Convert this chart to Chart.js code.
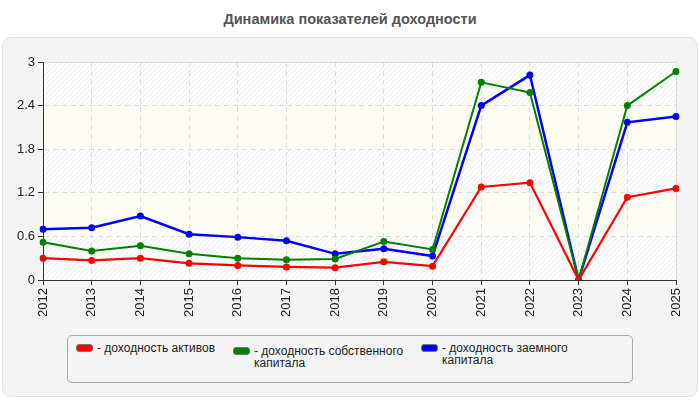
<!DOCTYPE html>
<html>
<head>
<meta charset="utf-8">
<script src="https://cdn.jsdelivr.net/npm/chart.js@4/dist/chart.umd.min.js"></script>
<style>
	body { margin: 0; width: 700px; height: 400px; position: relative; background: #fff; font-family: "Liberation Sans", Arial, sans-serif; overflow: hidden; }
	#title { position: absolute; left: 0; top: 11px; width: 700px; text-align: center; font-weight: bold; font-size: 14.5px; color: #555; }
	#panel { position: absolute; left: 2px; top: 37px; width: 694px; height: 358px; background: #f4f4f4; border: 1px solid #e2e2e2; border-radius: 9px; }
	#wrap { position: absolute; left: 0; top: 0; width: 700px; height: 400px; }
	#legend { position: absolute; left: 67px; top: 335px; width: 564px; height: 46px; border: 1px solid #aaa; border-radius: 5px; background: #f4f4f4; }
	.item { position: absolute; font-size: 12px; line-height: 12px; color: #222; }
	.sw { position: absolute; top: 2px; width: 15px; height: 6px; border-radius: 3px; border: 1px solid #777; }
	.txt { position: absolute; left: 21px; top: 0; white-space: nowrap; }
</style>
</head>
<body>
<div id="title">Динамика показателей доходности</div>
<div id="panel"></div>
<div id="wrap"><canvas id="chart" width="700" height="400"></canvas></div>
<div id="legend"></div>
<script>
"use strict";

const years = ["2012", "2013", "2014", "2015", "2016", "2017", "2018", "2019", "2020", "2021", "2022", "2023", "2024", "2025"];
const assetsReturn = [0.30, 0.27, 0.30, 0.23, 0.20, 0.18, 0.17, 0.25, 0.19, 1.28, 1.34, 0, 1.14, 1.26];
const equityReturn = [0.52, 0.40, 0.47, 0.36, 0.30, 0.28, 0.29, 0.53, 0.42, 2.72, 2.58, 0, 2.40, 2.87];
const debtReturn = [0.70, 0.72, 0.88, 0.63, 0.59, 0.54, 0.36, 0.43, 0.33, 2.40, 2.82, 0, 2.17, 2.25];
const yTicks = [0, 0.6, 1.2, 1.8, 2.4, 3];
const seriesNames = ["- доходность активов", "- доходность собственного<br>капитала", "- доходность заемного<br>капитала"];
const seriesColors = ["#ff0000", "#008000", "#0000ff"];

// hatched and plain horizontal bands behind the plot
const bandsPlugin = {
	id: "bands",
	beforeDraw(chart) {
		const ctx = chart.ctx;
		const area = chart.chartArea;
		const y = chart.scales.y;
		const pc = document.createElement("canvas");
		pc.width = 5;
		pc.height = 5;
		const p = pc.getContext("2d");
		p.fillStyle = "#ffffff";
		p.fillRect(0, 0, 5, 5);
		p.strokeStyle = "#ebebeb";
		p.lineWidth = 1;
		p.beginPath();
		p.moveTo(0, 5); p.lineTo(5, 0);
		p.moveTo(-2.5, 2.5); p.lineTo(2.5, -2.5);
		p.moveTo(2.5, 7.5); p.lineTo(7.5, 2.5);
		p.stroke();
		const pattern = ctx.createPattern(pc, "repeat");
		ctx.save();
		for (let i = 0; i < yTicks.length - 1; i++) {
			const top = y.getPixelForValue(yTicks[i + 1]);
			const bottom = y.getPixelForValue(yTicks[i]);
			ctx.fillStyle = i % 2 === 0 ? pattern : "#fdfdf6";
			ctx.fillRect(area.left, top, area.right - area.left, bottom - top);
		}
		ctx.strokeStyle = "#dddddd";
		ctx.lineWidth = 1;
		ctx.beginPath();
		ctx.moveTo(area.left, area.top + 0.5);
		ctx.lineTo(area.right + 0.5, area.top + 0.5);
		ctx.lineTo(area.right + 0.5, area.bottom);
		ctx.stroke();
		ctx.restore();
	}
};

function buildLegend() {
	const legend = document.querySelector("#legend");
	const lefts = [8, 165, 353];
	const tops = [6, 9, 6];
	seriesNames.forEach((name, i) => {
		const item = document.createElement("div");
		item.className = "item";
		item.style.left = lefts[i] + "px";
		item.style.top = tops[i] + "px";
		item.innerHTML = `<div class="sw" style="background:${seriesColors[i]}"></div><div class="txt">${name}</div>`;
		legend.appendChild(item);
	});
}

function makeDataset(label, data, color, width) {
	return {
		label: label,
		data: data,
		borderColor: color,
		backgroundColor: color,
		borderWidth: width,
		pointRadius: 3.5,
		pointHoverRadius: 3.5,
		pointBorderWidth: 0,
		tension: 0
	};
}

function drawChart() {
	const ctx = document.querySelector("#chart").getContext("2d");
	new Chart(ctx, {
		type: "line",
		data: {
			labels: years,
			datasets: [
				makeDataset("доходность активов", assetsReturn, seriesColors[0], 2.2),
				makeDataset("доходность собственного капитала", equityReturn, seriesColors[1], 2),
				makeDataset("доходность заемного капитала", debtReturn, seriesColors[2], 2.5)
			]
		},
		options: {
			responsive: false,
			animation: false,
			events: [],
			layout: { padding: { top: 62, right: 24, left: 0, bottom: 0 } },
			plugins: { legend: { display: false }, tooltip: { enabled: false } },
			scales: {
				x: {
					offset: false,
					afterFit(scale) { scale.height = 120; },
					grid: { color: "#dddddd", tickColor: "#333333", tickBorderDash: [], tickLength: 5 },
					border: { color: "#333333", width: 1, dash: [5, 4] },
					ticks: { color: "#222222", font: { family: "Liberation Sans", size: 13 }, minRotation: 90, maxRotation: 90, padding: 3, autoSkip: false }
				},
				y: {
					min: 0,
					max: 3,
					afterFit(scale) { scale.width = 43; },
					afterBuildTicks(scale) { scale.ticks = yTicks.map(v => ({ value: v })); },
					grid: { color: "#dddddd", tickColor: "#333333", tickBorderDash: [], tickLength: 5 },
					border: { color: "#333333", width: 1, dash: [5, 4] },
					ticks: { color: "#222222", font: { family: "Liberation Sans", size: 13 }, padding: 3, callback: v => String(v) }
				}
			}
		},
		plugins: [bandsPlugin]
	});
}

buildLegend();
drawChart();
</script>
</body>
</html>
